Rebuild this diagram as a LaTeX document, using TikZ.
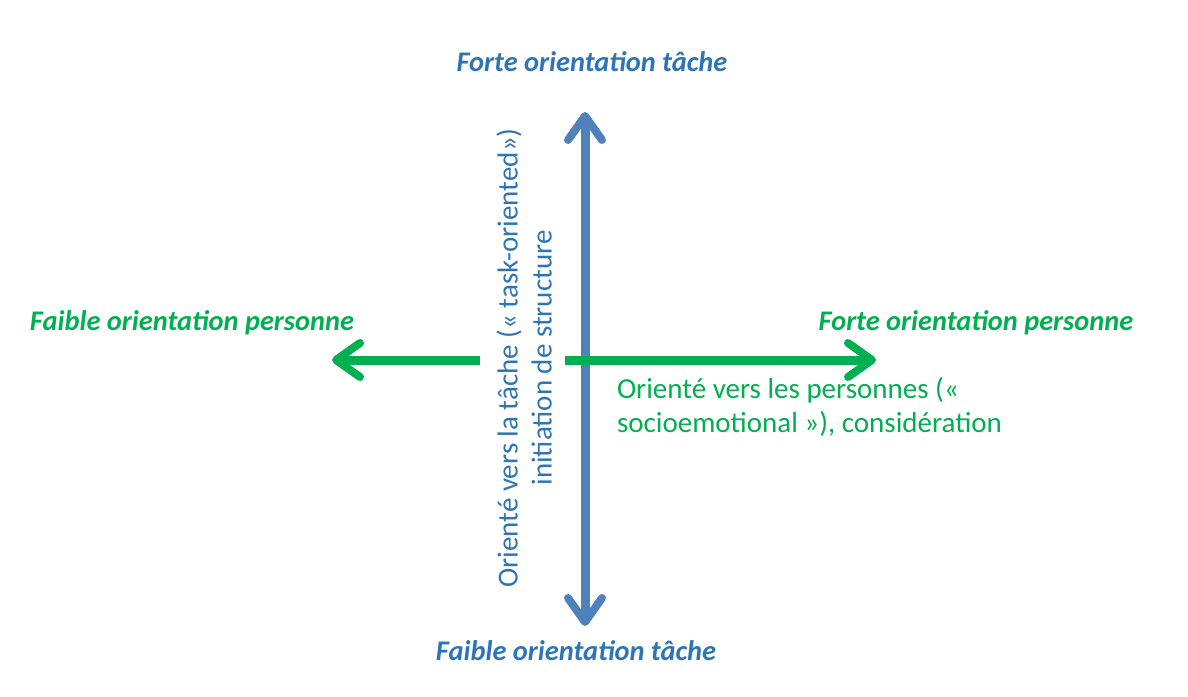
\documentclass[tikz,border=0pt]{standalone}
\usepackage{fontspec}
\setmainfont{Carlito}
\usetikzlibrary{arrows.meta}
\definecolor{axblue}{HTML}{4F81BD}
\definecolor{txblue}{HTML}{2E75B6}
\definecolor{grn}{HTML}{00B050}
\begin{document}
\begin{tikzpicture}[x=1pt,y=-1pt,
  every node/.style={inner sep=0pt,outer sep=0pt},
  tipb/.tip={Straight Barb[length=24pt,width=34pt,line width=8pt,round]},
  axis/.style={line width=9pt,-tipb},
  poletxt/.style={font=\fontsize{28.4}{32}\selectfont\bfseries\itshape},
  desc/.style={font=\fontsize{29}{34}\selectfont}]
\useasboundingbox[fill=white] (0,0) rectangle (1188,696);
\coordinate (vt) at (585,112);
\coordinate (bt) at (585,626);
\coordinate (gl) at (480,360);
\coordinate (gr) at (565,360);
\coordinate (lt) at (332,360);
\coordinate (rt) at (876,360);
% vertical axis
\draw[axis,axblue,tipb-tipb] (bt) -- (vt);
% green arrows
\draw[axis,grn] (gl) -- (lt);
\draw[axis,grn] (gr) -- (rt);
% pole labels
\node[poletxt,txblue] (ft) at (592,62) {Forte orientation tâche};
\node[poletxt,txblue] (fbt) at (576,651) {Faible orientation tâche};
\node[poletxt,grn] (fp) at (192,323) {Faible orientation personne};
\node[poletxt,grn] (frp) at (976,323) {Forte orientation personne};
% rotated description
\node[desc,txblue,rotate=90,align=center] (dt) at (524,358) {Orienté vers la tâche (« task-oriented»)\\initiation de structure};
% green description
\node[desc,grn,align=left,anchor=west] (dp) at (617,407) {Orienté vers les personnes («\\socioemotional »), considération};
\end{tikzpicture}
\end{document}
